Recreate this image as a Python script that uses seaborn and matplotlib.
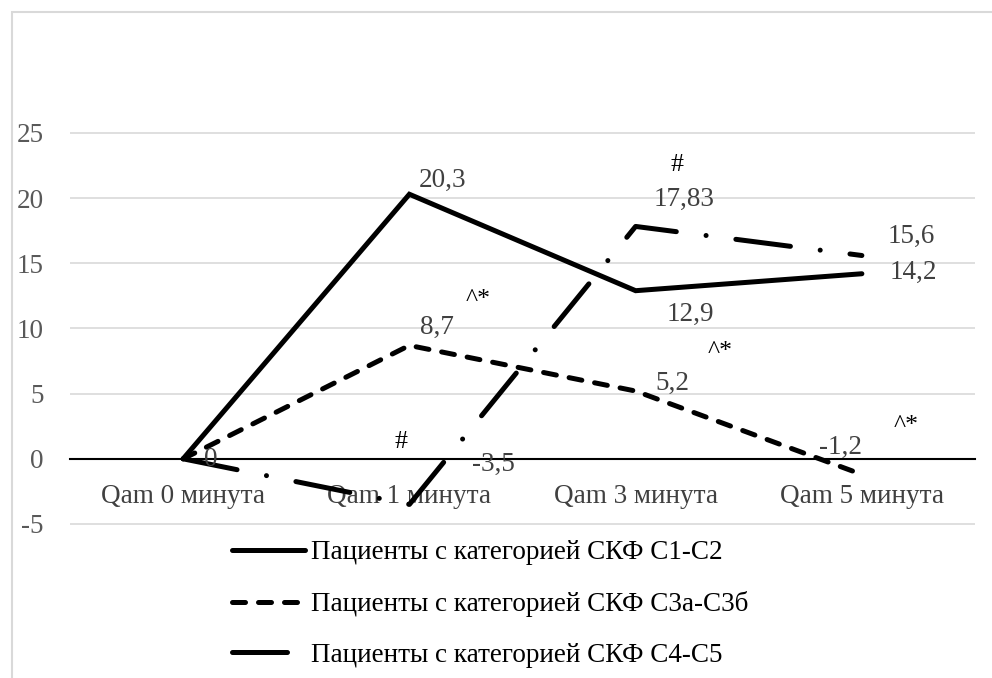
import pandas as pd
import matplotlib
matplotlib.use("Agg")
import matplotlib.pyplot as plt
import seaborn as sns
from matplotlib.patches import Rectangle

# Data
categories = ["Qam 0 минута", "Qam 1 минута", "Qam 3 минута", "Qam 5 минута"]
series_names = ["Пациенты с категорией СКФ С1-С2",
                "Пациенты с категорией СКФ С3а-С3б",
                "Пациенты с категорией СКФ С4-С5"]
c1_c2 = [0, 20.3, 12.9, 14.2]
c3a_c3b = [0, 8.7, 5.2, -1.2]
c4_c5 = [0, -3.5, 17.83, 15.6]
y_ticks = [-5, 0, 5, 10, 15, 20, 25]

# value labels (series index, point index, text) and their pixel offsets
value_labels = [
    (2, 0, "0"),
    (0, 1, "20,3"), (0, 2, "12,9"), (0, 3, "14,2"),
    (1, 1, "8,7"), (1, 2, "5,2"), (1, 3, "-1,2"),
    (2, 1, "-3,5"), (2, 2, "17,83"), (2, 3, "15,6"),
]
label_offsets = [(28, -1), (33, 14), (55, -24), (51, 1),
                 (28, 18), (37, 8), (-21, 27),
                 (84, 40), (48, 27), (49, 19)]
# significance marks
marks = [(1, 1, "^*"), (1, 2, "^*"), (1, 3, "^*"), (2, 1, "#"), (2, 2, "#")]
mark_offsets = [(69, 45), (85, 39), (44, 48), (-8, 62), (41, 61)]

all_values = [c1_c2, c3a_c3b, c4_c5]
df = pd.DataFrame({
    "time": categories * 3,
    "value": c1_c2 + c3a_c3b + c4_c5,
    "group": [name for name in series_names for _ in categories],
})

sns.set_style("white")
plt.rcParams["font.family"] = ["Liberation Serif", "DejaVu Serif"]
FS = 19.5

fig = plt.figure(figsize=(9.92, 6.78), dpi=100)
ax = fig.add_axes([70 / 992, 0.2233, 905 / 992, 0.5844])

dashes = {series_names[0]: "", series_names[1]: (2.6, 2.6),
          series_names[2]: (11, 6, 0.01, 6)}
sns.lineplot(data=df, x="time", y="value", style="group", dashes=dashes,
             color="black", linewidth=3.6, sort=False, ax=ax, legend="brief")
for line in ax.lines:
    line.set_dash_capstyle("round")
    line.set_solid_capstyle("round")
    line.set_solid_joinstyle("miter")

ax.set_xlim(-0.5, 3.5)
ax.set_ylim(-5.2, 25.2)
ax.set_yticks(y_ticks)
ax.set_yticklabels([str(v) for v in y_ticks], fontsize=FS, color="#595959")
ax.tick_params(axis="y", length=0, pad=19)
ax.tick_params(axis="x", length=0, pad=18, labelsize=FS, labelcolor="#404040")
ax.set_xlabel("")
ax.set_ylabel("")
ax.grid(axis="y", color="#d9d9d9", linewidth=1.2)
ax.grid(axis="x", visible=False)
for side in ["top", "right", "left"]:
    ax.spines[side].set_visible(False)
ax.spines["bottom"].set_position(("data", 0))
ax.spines["bottom"].set_color("black")
ax.spines["bottom"].set_linewidth(1.5)

for (s, i, txt), off in zip(value_labels, label_offsets):
    ax.annotate(txt, (i, all_values[s][i]), xytext=off, textcoords="offset pixels",
                ha="center", va="center", fontsize=FS, color="#404040")
for (s, i, txt), off in zip(marks, mark_offsets):
    ax.annotate(txt, (i, all_values[s][i]), xytext=off, textcoords="offset pixels",
                ha="center", va="center", fontsize=FS - 1, color="black")

leg = ax.legend(loc="upper left", bbox_to_anchor=(232 / 992, 0.203),
                bbox_transform=fig.transFigure, frameon=False, fontsize=FS,
                handlelength=2.7, handletextpad=0.2, labelspacing=0.95,
                borderpad=0, borderaxespad=0)
for h in leg.get_lines():
    h.set_linewidth(3.6)
    h.set_dash_capstyle("round")
    h.set_solid_capstyle("round")
for t in leg.get_texts():
    t.set_color("black")

fig.patches.append(Rectangle((12 / 992, -0.05), 1.0, (678 - 12) / 678 + 0.05,
                             transform=fig.transFigure, fill=False,
                             edgecolor="#d9d9d9", linewidth=1.5))

fig.savefig("out.png", dpi=100)
